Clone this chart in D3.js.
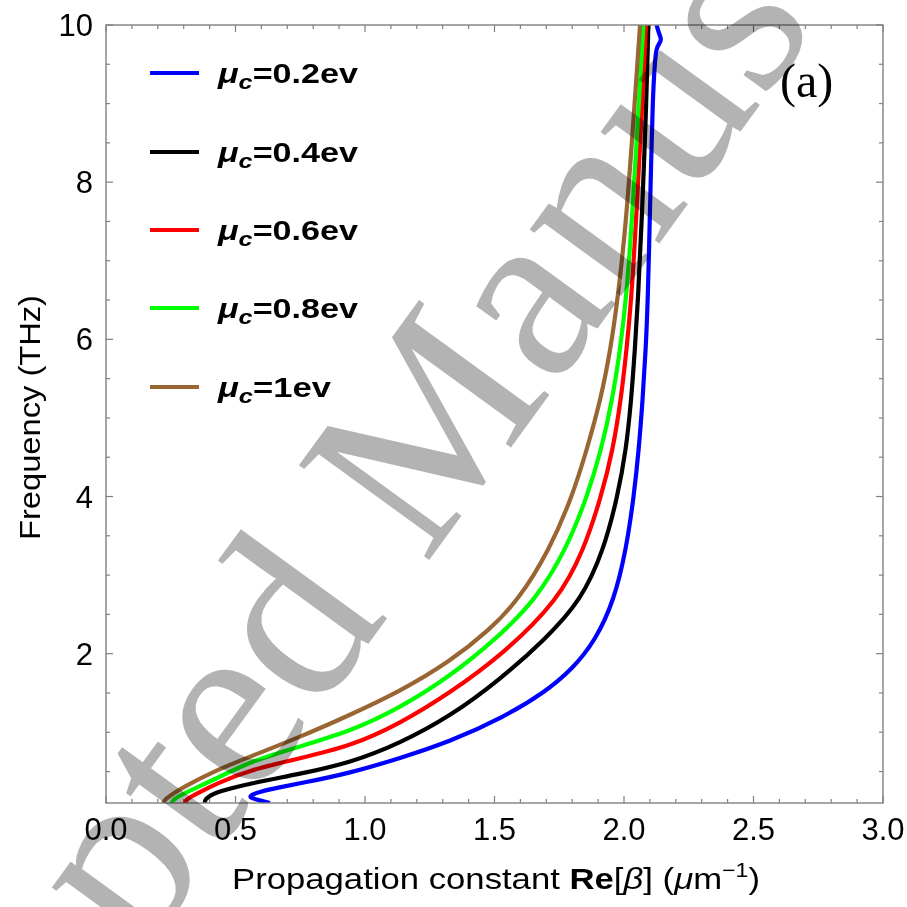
<!DOCTYPE html>
<html><head><meta charset="utf-8">
<script src="https://cdn.jsdelivr.net/npm/d3@7/dist/d3.min.js"></script>
<style>html,body{margin:0;padding:0;background:#fff;}svg{display:block;}</style>
</head><body><div id="chart"></div>
<script>
const seriesNames = ["0.2ev", "0.4ev", "0.6ev", "0.8ev", "1ev"];
const seriesColors = ["#0000ff", "#000000", "#ff0000", "#00ff00", "#996633"];

const freq02 = [0.10,0.12,0.15,0.17,0.20,0.24,0.30,0.35,0.48,0.67,0.88,1.2,1.5,1.8,2.17,2.68,3.32,4.0,4.59,5.23,5.87,6.5,7.46,8.28,9.05,9.47,9.70,9.76,9.81,9.90,10];
const beta02 = [0.633,0.61,0.575,0.556,0.558,0.59,0.67,0.75,0.942,1.135,1.328,1.54,1.69,1.80,1.89,1.962,2.008,2.038,2.057,2.072,2.084,2.092,2.099,2.105,2.111,2.118,2.124,2.135,2.146,2.134,2.126];

const freq04 = [0.10,0.14,0.18,0.24,0.35,0.47,0.61,0.86,1.20,1.67,2.18,2.68,3.32,4.0,4.59,5.23,5.87,6.5,7.46,9.05,10];
const beta04 = [0.382,0.382,0.395,0.427,0.556,0.749,0.942,1.135,1.328,1.521,1.695,1.835,1.922,1.975,2.008,2.028,2.042,2.054,2.068,2.087,2.094];

const freq06 = [0.10,0.14,0.20,0.35,0.52,0.67,0.82,1.11,1.50,2.0,2.68,3.32,4.0,4.59,5.23,5.87,6.5,7.46,9.05,10];
const beta06 = [0.305,0.308,0.34,0.427,0.556,0.749,0.942,1.135,1.328,1.535,1.746,1.845,1.912,1.957,1.988,2.010,2.028,2.046,2.071,2.085];

const freq08 = [0.10,0.14,0.22,0.41,0.63,0.82,1.01,1.31,1.71,2.2,2.68,3.32,4.0,4.59,5.23,5.87,6.5,7.46,9.05,10];
const beta08 = [0.254,0.258,0.298,0.427,0.556,0.749,0.942,1.135,1.328,1.51,1.658,1.776,1.858,1.912,1.955,1.985,2.008,2.030,2.058,2.075];

const freq10 = [0.10,0.14,0.22,0.30,0.52,0.69,0.94,1.22,1.52,1.90,2.3,2.68,3.32,4.0,4.59,5.23,5.87,6.5,7.46,9.05,10];
const beta10 = [0.221,0.226,0.26,0.298,0.427,0.556,0.749,0.942,1.135,1.328,1.48,1.592,1.712,1.80,1.856,1.910,1.948,1.975,2.008,2.042,2.062];

const freqs = [freq02, freq04, freq06, freq08, freq10];
const betas = [beta02, beta04, beta06, beta08, beta10];

const xTicks = [0, 0.5, 1.0, 1.5, 2.0, 2.5, 3.0];
const yTicks = [2, 4, 6, 8, 10];

(function () {
const W = 907, H = 907;
const svg = d3.select("#chart").append("svg").attr("width", W).attr("height", H);

const pL = 106, pR = 883, pT = 25, pB = 803;
const x = d3.scaleLinear().domain([0, 3]).range([pL, pR]);
const y = d3.scaleLinear().domain([0.1, 10]).range([pB, pT]);

svg.append("defs").append("clipPath").attr("id", "clip")
  .append("rect").attr("x", pL).attr("y", pT).attr("width", pR - pL).attr("height", pB - pT);

const frameColor = "#808080";
const g = svg.append("g");

const xMinor = d3.range(0, 3.0001, 0.1);
const yMinor = d3.range(0.5, 10.0001, 0.5);
xMinor.forEach(v => {
  const major = xTicks.some(t => Math.abs(t - v) < 1e-6);
  const len = major ? 7 : 4;
  g.append("line").attr("x1", x(v)).attr("x2", x(v)).attr("y1", pB).attr("y2", pB - len).attr("stroke", frameColor).attr("stroke-width", 1.2);
  g.append("line").attr("x1", x(v)).attr("x2", x(v)).attr("y1", pT).attr("y2", pT + len).attr("stroke", frameColor).attr("stroke-width", 1.2);
});
yMinor.forEach(v => {
  const major = yTicks.some(t => Math.abs(t - v) < 1e-6);
  const len = major ? 7 : 4;
  g.append("line").attr("y1", y(v)).attr("y2", y(v)).attr("x1", pL).attr("x2", pL + len).attr("stroke", frameColor).attr("stroke-width", 1.2);
  g.append("line").attr("y1", y(v)).attr("y2", y(v)).attr("x1", pR).attr("x2", pR - len).attr("stroke", frameColor).attr("stroke-width", 1.2);
});

const line = d3.line().x(d => x(d[0])).y(d => y(d[1])).curve(d3.curveBasis);
const curves = svg.append("g").attr("clip-path", "url(#clip)");
betas.forEach((b, i) => {
  const pts = b.map((v, j) => [v, freqs[i][j]]);
  curves.append("path").attr("d", line(pts)).attr("fill", "none")
    .attr("stroke", seriesColors[i]).attr("stroke-width", 4.2).attr("stroke-linejoin", "round");
});

svg.append("rect").attr("x", pL).attr("y", pT).attr("width", pR - pL).attr("height", pB - pT)
  .attr("fill", "none").attr("stroke", frameColor).attr("stroke-width", 1.4);

const tf = "'Liberation Sans', Arial, sans-serif";
xTicks.forEach(v => {
  svg.append("text").attr("x", x(v)).attr("y", 840).attr("text-anchor", "middle")
    .attr("font-family", tf).attr("font-size", 31).attr("fill", "#000").text(v.toFixed(1));
});
yTicks.forEach(v => {
  svg.append("text").attr("x", 93).attr("y", y(v) + 11).attr("text-anchor", "end")
    .attr("font-family", tf).attr("font-size", 31).attr("fill", "#000").text(v);
});

const xt = svg.append("text").attr("x", 232).attr("y", 889)
  .attr("font-family", tf).attr("font-size", 30).attr("fill", "#000")
  .attr("textLength", 528).attr("lengthAdjust", "spacingAndGlyphs");
xt.append("tspan").text("Propagation constant ");
xt.append("tspan").attr("font-weight", "bold").text("Re");
xt.append("tspan").text("[");
xt.append("tspan").attr("font-style", "italic").text("β");
xt.append("tspan").text("] (");
xt.append("tspan").attr("font-style", "italic").text("μ");
xt.append("tspan").text("m");
xt.append("tspan").attr("font-size", 20).attr("dy", -12).text("−1");
xt.append("tspan").attr("dy", 12).text(")");

svg.append("text").attr("transform", "translate(40,540) rotate(-90)")
  .attr("font-family", tf).attr("font-size", 30).attr("fill", "#000")
  .attr("textLength", 245).attr("lengthAdjust", "spacingAndGlyphs").text("Frequency (THz)");

const legY = [73, 152, 230, 308, 387];
const legW = [140, 140, 140, 140, 113];
seriesNames.forEach((n, i) => {
  svg.append("line").attr("x1", 150).attr("x2", 199).attr("y1", legY[i]).attr("y2", legY[i])
    .attr("stroke", seriesColors[i]).attr("stroke-width", 4.2);
  const t = svg.append("text").attr("x", 218).attr("y", legY[i] + 10)
    .attr("font-family", tf).attr("font-size", 27).attr("font-weight", "bold").attr("fill", "#000")
    .attr("textLength", legW[i]).attr("lengthAdjust", "spacingAndGlyphs");
  t.append("tspan").attr("font-style", "italic").text("μ");
  t.append("tspan").attr("font-style", "italic").attr("font-size", 20).attr("dy", 6).text("c");
  t.append("tspan").attr("dy", -6).text("=" + n);
});

svg.append("text").attr("x", 780).attr("y", 97).attr("font-family", "'Liberation Serif', 'Times New Roman', serif")
  .attr("font-size", 48).attr("fill", "#000").text("(a)");

svg.append("text").attr("transform", "translate(-157,1367) rotate(-54)")
  .attr("font-family", "'Liberation Serif', 'Times New Roman', serif").attr("font-size", 246)
  .attr("fill", "#b3b3b3").style("mix-blend-mode", "multiply").text("Accepted Manuscript");
})();
</script></body></html>
